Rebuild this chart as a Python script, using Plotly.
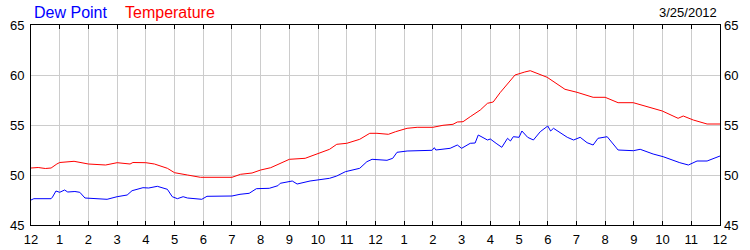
import plotly.graph_objects as go

# Hours since midnight
temp_hours = [0, 0.25, 0.5, 0.7, 0.9, 1.0, 1.5, 1.75, 2.0, 2.6, 3.0, 3.45, 3.55, 4.0, 4.3, 4.75,
              5.0, 5.45, 5.9, 7.0, 7.3, 7.7, 8.0, 8.35, 8.8, 9.0, 9.55, 10.0, 10.4, 10.65, 11.0,
              11.45, 11.8, 12.05, 12.45, 12.7, 13.1, 13.45, 14.0, 14.35, 14.7, 14.85, 15.05, 15.3,
              15.65, 15.9, 16.1, 16.34, 16.86, 17.2, 17.39, 17.98, 18.6, 19.02, 19.58, 20.0, 20.45,
              20.98, 21.57, 21.99, 22.54, 22.72, 23.07, 23.55, 24.0]
temperature = [50.7, 50.75, 50.65, 50.7, 51.1, 51.25, 51.37, 51.25, 51.1, 51.0, 51.23, 51.1, 51.25,
               51.23, 51.1, 50.67, 50.23, 50.0, 49.77, 49.77, 50.07, 50.2, 50.5, 50.73, 51.33, 51.57,
               51.67, 52.17, 52.57, 53.07, 53.17, 53.57, 54.17, 54.17, 54.07, 54.33, 54.67, 54.77,
               54.77, 54.97, 55.07, 55.3, 55.33, 55.83, 56.5, 57.17, 57.3, 58.23, 60.0, 60.3, 60.43,
               59.77, 58.57, 58.27, 57.77, 57.77, 57.23, 57.23, 56.73, 56.4, 55.67, 55.9, 55.5, 55.1,
               55.1]

dew_hours = [0, 0.1, 0.7, 0.75, 0.87, 1.0, 1.17, 1.28, 1.53, 1.7, 1.88, 2.3, 2.65, 3.0, 3.35, 3.52,
             3.9, 4.1, 4.4, 4.75, 4.92, 5.1, 5.3, 5.45, 5.95, 6.13, 7.0, 7.28, 7.6, 7.85, 8.3, 8.6,
             8.68, 9.1, 9.27, 9.72, 10.4, 10.65, 10.95, 11.45, 11.7, 11.88, 12.4, 12.6, 12.75, 13.1,
             13.97, 14.05, 14.1, 14.6, 14.85, 15.0, 15.3, 15.47, 15.58, 15.9, 16.0, 16.2, 16.4, 16.6,
             16.7, 16.8, 17.0, 17.1, 17.3, 17.5, 17.74, 18.0, 18.1, 18.2, 18.68, 18.9, 19.13, 19.37,
             19.58, 19.75, 20.07, 20.45, 20.98, 21.22, 21.67, 22.02, 22.6, 22.9, 23.2, 23.55, 23.77,
             24.0]
dew_point = [47.5, 47.63, 47.63, 47.8, 48.4, 48.27, 48.5, 48.3, 48.35, 48.27, 47.7, 47.6, 47.57,
             47.83, 48.0, 48.43, 48.73, 48.7, 48.87, 48.57, 47.83, 47.63, 47.83, 47.7, 47.57, 47.87,
             47.9, 48.07, 48.17, 48.63, 48.67, 48.93, 49.17, 49.4, 49.1, 49.4, 49.67, 49.9, 50.33,
             50.67, 51.33, 51.57, 51.47, 51.67, 52.27, 52.4, 52.47, 52.73, 52.5, 52.67, 53.0, 52.67,
             53.17, 53.2, 54.0, 53.5, 53.6, 53.17, 52.77, 53.67, 53.4, 53.83, 53.77, 54.4, 53.77,
             53.5, 54.33, 54.9, 54.4, 54.67, 53.77, 53.5, 53.77, 53.23, 53.0, 53.67, 53.83, 52.5,
             52.43, 52.57, 52.1, 51.83, 51.23, 51.0, 51.4, 51.4, 51.67, 51.9]

tick_vals = list(range(0, 25))
tick_text = ["12", "1", "2", "3", "4", "5", "6", "7", "8", "9", "10", "11",
             "12", "1", "2", "3", "4", "5", "6", "7", "8", "9", "10", "11", "12"]
y_ticks = [45, 50, 55, 60, 65]

FONT = "Liberation Sans, Arial, sans-serif"
L, R, T, B = 31, 30, 25, 25
W, H = 750, 250
plot_w = W - L - R
plot_h = H - T - B

fig = go.Figure()
fig.add_trace(go.Scatter(x=dew_hours, y=dew_point, mode="lines",
                         line=dict(color="#0000FF", width=1), name="Dew Point"))
fig.add_trace(go.Scatter(x=temp_hours, y=temperature, mode="lines",
                         line=dict(color="#FF0000", width=1), name="Temperature"))
# invisible trace for right axis labels
fig.add_trace(go.Scatter(x=[0], y=[45], yaxis="y2", mode="markers",
                         marker=dict(opacity=0), showlegend=False, hoverinfo="skip"))


def px(xp, yp):
    return (xp - L) / plot_w, (H - B - yp) / plot_h


ann_specs = [("Dew Point", 32, 12, "left", "#0000FF", 16),
             ("Temperature", 123, 12, "left", "#FF0000", 16),
             ("3/25/2012", 719, 12, "right", "#000000", 13)]
anns = []
for text, xp, yp, anchor, color, size in ann_specs:
    ax, ay = px(xp, yp)
    anns.append(dict(text=text, xref="paper", yref="paper", x=ax, y=ay,
                     xanchor=anchor, yanchor="middle", showarrow=False,
                     font=dict(color=color, size=size, family=FONT)))

fig.update_layout(
    width=W, height=H,
    margin=dict(l=L, r=R, t=T, b=B, autoexpand=False),
    paper_bgcolor="white", plot_bgcolor="white",
    showlegend=False,
    font=dict(family=FONT, size=13, color="#000000"),
    xaxis=dict(range=[0, 24], tickvals=tick_vals, ticktext=tick_text,
               showgrid=True, gridcolor="#cccccc", gridwidth=1,
               showline=True, linecolor="black", linewidth=1, mirror="ticks",
               ticks="inside", ticklen=4, tickcolor="black", automargin=False,
               zeroline=False, tickfont=dict(size=13), ticklabelstandoff=2),
    yaxis=dict(range=[45, 65], tickvals=y_ticks, showgrid=True, gridcolor="#cccccc",
               showline=True, linecolor="black", linewidth=1, mirror=True, automargin=False,
               ticks="", zeroline=False, tickfont=dict(size=13), ticklabelstandoff=3),
    yaxis2=dict(range=[45, 65], tickvals=y_ticks, overlaying="y", side="right",
                showgrid=False, showline=False, ticks="", zeroline=False, automargin=False,
                tickfont=dict(size=13), ticklabelstandoff=3),
    annotations=anns,
)

fig.write_html("out.html")
